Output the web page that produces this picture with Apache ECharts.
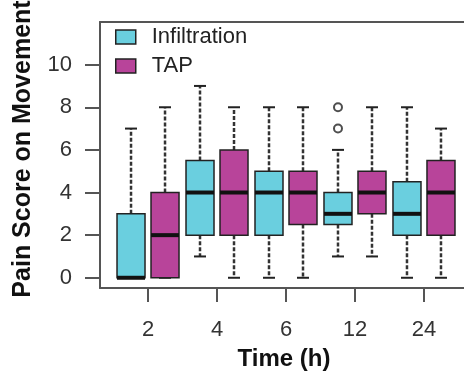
<!DOCTYPE html>
<html>
<head>
<meta charset="utf-8">
<script src="https://cdn.jsdelivr.net/npm/echarts@6/dist/echarts.min.js"></script>
<style>
  html, body { margin: 0; padding: 0; background: #fff; }
  #main { width: 464px; height: 374px; }
</style>
</head>
<body>
<div id="main"></div>
<script>
// time points (category labels on the x axis)
const times = ['2', '4', '6', '12', '24'];
// box stats per time point: [min, q1, median, q3, max]
const infiltration = [[0, 0, 0, 3, 7], [1, 2, 4, 5.5, 9], [0, 2, 4, 5, 8], [1, 2.5, 3, 4, 6], [0, 2, 3, 4.5, 8]];
const tap = [[0, 0, 2, 4, 8], [0, 2, 4, 6, 8], [0, 2.5, 4, 5, 8], [1, 3, 4, 5, 8], [0, 2, 4, 5.5, 7]];
// outliers: [time index, value]
const infiltrationOutliers = [[3, 7], [3, 8]];
const yTicks = [0, 2, 4, 6, 8, 10];

const cyan = '#6acfdf';
const magenta = '#b8449a';
const dark = '#222';
const axisCol = '#555';
const font = '"Liberation Sans", Arial, sans-serif';

function toRows(stats) {
  return stats.map((s, i) => [i].concat(s));
}

function boxRender(shift, color) {
  return function (params, api) {
    const x = api.value(0);
    const pt = v => api.coord([x, api.value(v)]);
    const cx = pt(1)[0] + shift;
    const yMin = pt(1)[1], yQ1 = pt(2)[1], yMed = pt(3)[1], yQ3 = pt(4)[1], yMax = pt(5)[1];
    const half = 14, cap = 6;
    const dash = { stroke: '#333', lineWidth: 2.5, lineDash: [4, 2] };
    const solid = { stroke: dark, lineWidth: 2 };
    return {
      type: 'group',
      children: [
        { type: 'line', shape: { x1: cx, y1: yQ3, x2: cx, y2: yMax }, style: dash },
        { type: 'line', shape: { x1: cx, y1: yQ1, x2: cx, y2: yMin }, style: dash },
        { type: 'line', shape: { x1: cx - cap, y1: yMax, x2: cx + cap, y2: yMax }, style: solid },
        { type: 'line', shape: { x1: cx - cap, y1: yMin, x2: cx + cap, y2: yMin }, style: solid },
        { type: 'rect', shape: { x: cx - half, y: yQ3, width: half * 2, height: yQ1 - yQ3 },
          style: { fill: color, stroke: dark, lineWidth: 1.5 } },
        { type: 'line', shape: { x1: cx - half, y1: yMed, x2: cx + half, y2: yMed },
          style: { stroke: '#111', lineWidth: 4 } }
      ]
    };
  };
}

const chart = echarts.init(document.getElementById('main'));
chart.setOption({
  animation: false,
  backgroundColor: '#fff',
  textStyle: { fontFamily: font },
  grid: { left: 100, top: 22, right: -4, bottom: 86, outerBoundsMode: 'none', containLabel: false },
  legend: {
    orient: 'vertical',
    left: 115,
    top: 26,
    padding: 0,
    itemGap: 7,
    itemWidth: 20,
    itemHeight: 14,
    textStyle: { fontSize: 22, color: '#222', lineHeight: 22, padding: [0, 0, 0, 11] },
    data: [
      { name: 'Infiltration', icon: 'rect', itemStyle: { color: cyan, borderColor: dark, borderWidth: 1.5 } },
      { name: 'TAP', icon: 'rect', itemStyle: { color: magenta, borderColor: dark, borderWidth: 1.5 } }
    ]
  },
  xAxis: [{
    type: 'value',
    min: -0.696,
    max: 4.638,
    splitLine: { show: false },
    axisLine: { show: true, onZero: false, lineStyle: { color: axisCol, width: 2 } },
    axisTick: { show: true, length: 14, customValues: [0, 1, 2, 3, 4], lineStyle: { color: axisCol, width: 2 } },
    axisLabel: {
      customValues: [0, 1, 2, 3, 4],
      formatter: v => times[Math.round(v)],
      fontSize: 22, color: '#333', margin: 31
    },
    name: 'Time (h)',
    nameLocation: 'middle',
    nameGap: 59,
    nameTextStyle: { fontSize: 24, fontWeight: 'bold', color: '#111' }
  }, {
    type: 'value',
    position: 'top',
    min: -0.696,
    max: 4.638,
    splitLine: { show: false },
    axisLine: { show: true, onZero: false, lineStyle: { color: axisCol, width: 2 } },
    axisTick: { show: false },
    axisLabel: { show: false }
  }],
  yAxis: {
    type: 'value',
    min: -0.48,
    max: 12,
    splitLine: { show: false },
    axisLine: { show: true, onZero: false, lineStyle: { color: axisCol, width: 2 } },
    axisTick: { show: true, length: 15, customValues: yTicks, lineStyle: { color: axisCol, width: 2 } },
    axisLabel: { customValues: yTicks, fontSize: 22, color: '#333', margin: 28 },
    name: 'Pain Score on Movement',
    nameLocation: 'middle',
    nameGap: 64,
    nameTextStyle: { fontSize: 25, fontWeight: 'bold', color: '#111', padding: [0, 0, 0, 12] }
  },
  series: [{
    name: 'Infiltration',
    type: 'custom',
    renderItem: boxRender(-17, cyan),
    encode: { x: 0, y: [1, 2, 3, 4, 5] },
    itemStyle: { color: cyan },
    data: toRows(infiltration)
  }, {
    name: 'TAP',
    type: 'custom',
    renderItem: boxRender(17, magenta),
    encode: { x: 0, y: [1, 2, 3, 4, 5] },
    itemStyle: { color: magenta },
    data: toRows(tap)
  }, {
    name: 'Infiltration outliers',
    type: 'scatter',
    symbol: 'emptyCircle',
    symbolSize: 8,
    symbolOffset: [-17, 0],
    itemStyle: { color: dark, borderColor: dark, borderWidth: 2 },
    data: infiltrationOutliers
  }]
});
</script>
</body>
</html>
